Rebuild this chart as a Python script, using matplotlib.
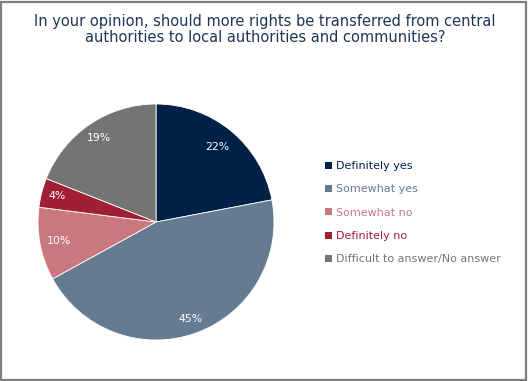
import matplotlib
matplotlib.use("Agg")
import numpy as np
import matplotlib.pyplot as plt
from matplotlib.patches import Rectangle

categories = ["Definitely yes", "Somewhat yes", "Somewhat no", "Definitely no",
              "Difficult to answer/No answer"]
values = [22, 45, 10, 4, 19]
colors = ["#002147", "#657b91", "#c9787f", "#a01f35", "#747474"]
label_dist = [0.82, 0.87, 0.84, 0.87, 0.86]
title = "In your opinion, should more rights be transferred from central\nauthorities to local authorities and communities?"

W, H = 528, 381
fig = plt.figure(figsize=(W / 100, H / 100), dpi=100)
fig.patch.set_facecolor("white")

# frame
fig.add_artist(Rectangle((1 / W, 1 / H), 1 - 3 / W, 1 - 3 / H, transform=fig.transFigure,
                         fill=False, edgecolor="#7f7f7f", linewidth=1.6))

fig.text(265 / W, 1 - 29.5 / H, title, ha="center", va="center", fontsize=10.5,
         color="#1f3554", linespacing=1.15, family="DejaVu Sans")

cx, cy, r = 156, H - 222, 118
ax = fig.add_axes([(cx - r) / W, (cy - r) / H, 2 * r / W, 2 * r / H])
wedges, texts, autotexts = ax.pie(values, colors=colors, startangle=90, counterclock=False,
                                  autopct=lambda p: f"{p:.0f}%", pctdistance=0.86,
                                  wedgeprops=dict(linewidth=0.6, edgecolor="white"),
                                  textprops=dict(color="white", fontsize=7.8))
for w, t, d in zip(wedges, autotexts, label_dist):
    ang = np.deg2rad((w.theta1 + w.theta2) / 2)
    t.set_position((d * np.cos(ang), d * np.sin(ang)))
ax.set_xlim(-1, 1)
ax.set_ylim(-1, 1)
ax.set_aspect("equal")

leg = fig.legend(wedges, categories, loc="upper left",
                 bbox_to_anchor=(315 / W, 1 - 151 / H), frameon=False,
                 handlelength=0.6, handleheight=0.6, handletextpad=0.35,
                 labelspacing=1.2, fontsize=8, labelcolor=colors)
for h in leg.legend_handles:
    h.set_linewidth(0)

fig.savefig("out.png", dpi=100)
